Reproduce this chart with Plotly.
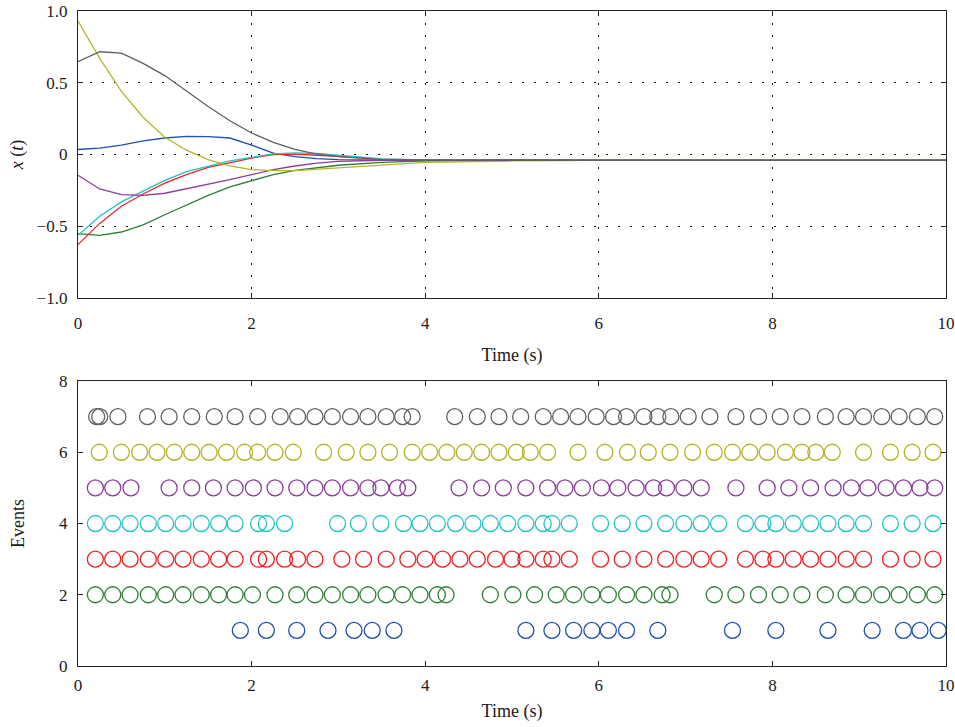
import plotly.graph_objects as go

# ---- data: state trajectories ----
t = [0, 0.25, 0.5, 0.75, 1.0, 1.25, 1.5, 1.75, 2.0, 2.25, 2.5, 2.75, 3.0, 3.5, 4.0, 5.0, 6.0, 8.0, 10.0]
x_blue   = [0.035, 0.045, 0.065, 0.095, 0.115, 0.127, 0.125, 0.115, 0.065, 0.01, -0.015, -0.028, -0.035, -0.04, -0.042, -0.04, -0.04, -0.04, -0.04]
x_green  = [-0.551, -0.563, -0.54, -0.49, -0.42, -0.353, -0.285, -0.225, -0.18, -0.14, -0.11, -0.092, -0.075, -0.055, -0.045, -0.041, -0.04, -0.04, -0.04]
x_red    = [-0.628, -0.48, -0.36, -0.275, -0.2, -0.14, -0.09, -0.055, -0.025, 0.0, 0.003, -0.005, -0.012, -0.032, -0.04, -0.04, -0.04, -0.04, -0.04]
x_cyan   = [-0.563, -0.43, -0.33, -0.255, -0.18, -0.12, -0.08, -0.045, -0.02, 0.005, 0.012, 0.007, -0.005, -0.03, -0.038, -0.04, -0.04, -0.04, -0.04]
x_purple = [-0.144, -0.24, -0.28, -0.285, -0.27, -0.24, -0.21, -0.175, -0.14, -0.105, -0.08, -0.06, -0.048, -0.04, -0.04, -0.04, -0.04, -0.04, -0.04]
x_yellow = [0.93, 0.67, 0.44, 0.26, 0.12, 0.03, -0.035, -0.08, -0.105, -0.112, -0.112, -0.102, -0.092, -0.07, -0.055, -0.045, -0.04, -0.04, -0.04]
x_gray   = [0.647, 0.716, 0.706, 0.635, 0.55, 0.44, 0.335, 0.235, 0.15, 0.085, 0.035, 0.003, -0.015, -0.035, -0.04, -0.04, -0.04, -0.04, -0.04]

# ---- data: event times per agent ----
ev1 = [1.87, 2.17, 2.52, 2.88, 3.18, 3.39, 3.64, 5.16, 5.46, 5.71, 5.92, 6.11, 6.32, 6.68, 7.54, 8.04, 8.64, 9.15, 9.51, 9.70, 9.91]
ev2 = [0.20, 0.40, 0.60, 0.81, 1.01, 1.21, 1.42, 1.62, 1.81, 2.01, 2.27, 2.52, 2.73, 2.93, 3.14, 3.34, 3.55, 3.74, 3.94, 4.14, 4.24, 4.75, 5.01, 5.26, 5.51, 5.71, 5.92, 6.11, 6.32, 6.52, 6.73, 6.82, 7.33, 7.58, 7.84, 8.09, 8.34, 8.61, 8.85, 9.05, 9.26, 9.46, 9.67, 9.87]
ev3 = [0.20, 0.40, 0.60, 0.81, 1.01, 1.21, 1.42, 1.62, 1.81, 2.08, 2.17, 2.38, 2.53, 2.73, 3.04, 3.29, 3.55, 3.80, 4.00, 4.20, 4.40, 4.60, 4.81, 5.00, 5.16, 5.36, 5.46, 5.66, 6.02, 6.27, 6.52, 6.77, 6.98, 7.18, 7.38, 7.69, 7.89, 8.04, 8.24, 8.44, 8.64, 8.85, 9.05, 9.36, 9.61, 9.85]
ev4 = [0.20, 0.40, 0.60, 0.81, 1.01, 1.21, 1.42, 1.62, 1.81, 2.08, 2.17, 2.38, 2.99, 3.23, 3.49, 3.75, 3.94, 4.14, 4.35, 4.55, 4.75, 4.95, 5.16, 5.36, 5.46, 5.66, 6.02, 6.27, 6.52, 6.77, 6.98, 7.18, 7.38, 7.69, 7.89, 8.04, 8.24, 8.44, 8.64, 8.85, 9.05, 9.36, 9.61, 9.85]
ev5 = [0.20, 0.40, 0.61, 1.05, 1.31, 1.56, 1.81, 2.02, 2.27, 2.52, 2.73, 2.93, 3.14, 3.34, 3.49, 3.68, 3.80, 4.39, 4.65, 4.90, 5.16, 5.41, 5.61, 5.81, 6.03, 6.22, 6.43, 6.63, 6.78, 6.98, 7.18, 7.58, 7.94, 8.19, 8.44, 8.70, 8.91, 9.10, 9.31, 9.51, 9.70, 9.87]
ev6 = [0.245, 0.50, 0.71, 0.91, 1.11, 1.31, 1.51, 1.71, 1.92, 2.07, 2.27, 2.48, 2.83, 3.09, 3.34, 3.59, 3.85, 4.05, 4.25, 4.45, 4.65, 4.85, 5.05, 5.21, 5.41, 5.76, 6.07, 6.33, 6.57, 6.82, 7.08, 7.33, 7.54, 7.74, 7.94, 8.15, 8.34, 8.50, 8.69, 9.05, 9.36, 9.61, 9.85]
ev7 = [0.215, 0.25, 0.46, 0.80, 1.05, 1.31, 1.57, 1.81, 2.07, 2.33, 2.53, 2.73, 2.93, 3.14, 3.34, 3.55, 3.74, 3.85, 4.34, 4.60, 4.85, 5.10, 5.36, 5.56, 5.76, 5.97, 6.17, 6.32, 6.52, 6.68, 6.83, 7.03, 7.28, 7.58, 7.84, 8.09, 8.34, 8.61, 8.85, 9.05, 9.26, 9.46, 9.67, 9.87]

top_yticks = [-1.0, -0.5, 0, 0.5, 1.0]
top_ytick_labels = ["\u22121.0", "\u22120.5", "0", "0.5", "1.0"]
x_ticks = [0, 2, 4, 6, 8, 10]
bot_yticks = [0, 2, 4, 6, 8]

colors = ["#1f4fb5", "#2e7d3a", "#f02525", "#22c3c3", "#8e3ca0", "#b5b528", "#5f5f5f"]
states = [x_blue, x_green, x_red, x_cyan, x_purple, x_yellow, x_gray]
events = [ev1, ev2, ev3, ev4, ev5, ev6, ev7]

fig = go.Figure()
for c, s in zip(colors, states):
    fig.add_trace(go.Scatter(x=t, y=s, mode="lines", line=dict(color=c, width=1.3),
                             xaxis="x", yaxis="y", showlegend=False))
for i, (c, e) in enumerate(zip(colors, events)):
    fig.add_trace(go.Scatter(x=e, y=[i + 1] * len(e), mode="markers",
                             marker=dict(symbol="circle-open", size=16, color=c, line=dict(width=1.3)),
                             xaxis="x2", yaxis="y2", showlegend=False, cliponaxis=False))

font = dict(family="Liberation Serif, Times New Roman, serif", size=18, color="#1a1a1a")
tfont = dict(family="Liberation Serif, Times New Roman, serif", size=17, color="#1a1a1a")
axis_common = dict(showline=True, linecolor="#222222", linewidth=1.3, mirror="allticks",
                   ticks="inside", ticklen=5, tickcolor="#222222", tickwidth=1,
                   zeroline=False, tickfont=tfont, automargin=False, ticklabeloverflow="allow")
grid_dash = "1.5px,10.5px"

fig.update_layout(
    width=955, height=727,
    margin=dict(l=78, r=9, t=11, b=61),
    paper_bgcolor="white", plot_bgcolor="white",
    font=font,
    xaxis=dict(domain=[0, 1], range=[0, 10], tickvals=x_ticks, anchor="y",
               showgrid=True, gridcolor="#111111", griddash=grid_dash, gridwidth=1.2,
               ticklabelstandoff=9,
               title=dict(text="Time (s)", font=font, standoff=16), **axis_common),
    yaxis=dict(domain=[0.5618, 1], range=[-1, 1], tickvals=top_yticks, ticktext=top_ytick_labels,
               anchor="x", showgrid=True, gridcolor="#111111", griddash=grid_dash, gridwidth=1.2,
               ticklabelstandoff=6,
               title=dict(text="<i>x</i> (<i>t</i>)", font=font, standoff=8), **axis_common),
    xaxis2=dict(domain=[0, 1], range=[0, 10], tickvals=x_ticks, anchor="y2", showgrid=False,
                ticklabelstandoff=3,
                title=dict(text="Time (s)", font=font, standoff=10), **axis_common),
    yaxis2=dict(domain=[0, 0.4351], range=[0, 8], tickvals=bot_yticks, anchor="x2", showgrid=False,
                ticklabelstandoff=6,
                title=dict(text="Events", font=font, standoff=29), **axis_common),
)

fig.write_html("out.html", config={"displayModeBar": False},
               post_script="document.body.style.margin='0';document.body.style.overflow='hidden';")
